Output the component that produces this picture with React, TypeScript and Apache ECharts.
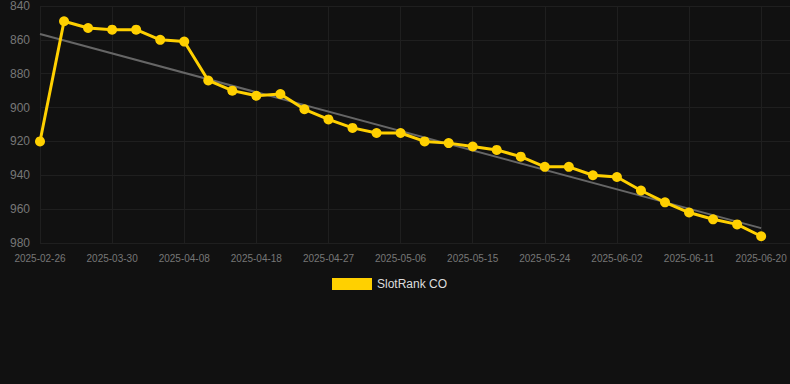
import React, { useEffect, useRef } from "react";
import * as echarts from "echarts";

const dates = [
  "2025-02-26", "2025-03-24", "2025-03-27", "2025-03-30", "2025-04-02", "2025-04-05",
  "2025-04-08", "2025-04-11", "2025-04-15", "2025-04-18", "2025-04-21", "2025-04-24",
  "2025-04-27", "2025-04-30", "2025-05-03", "2025-05-06", "2025-05-09", "2025-05-12",
  "2025-05-15", "2025-05-18", "2025-05-21", "2025-05-24", "2025-05-27", "2025-05-30",
  "2025-06-02", "2025-06-05", "2025-06-08", "2025-06-11", "2025-06-14", "2025-06-17",
  "2025-06-20",
];

const rankValues = [
  920, 849, 853, 854, 854, 860, 861, 884, 890, 893, 892, 901, 907, 912, 915, 915,
  920, 921, 923, 925, 929, 935, 935, 940, 941, 949, 956, 962, 966, 969, 976,
];

const trendIndex = [0, 30];
const trendValues = [856.5, 971.2];

const seriesName = "SlotRank CO";

export default function App() {
  const ref = useRef<HTMLDivElement>(null);
  useEffect(() => {
    document.body.style.margin = "0";
    document.body.style.background = "#111111";
    const chart = echarts.init(ref.current!, null, { renderer: "svg" });
    chart.setOption({
      animation: false,
      backgroundColor: "#111111",
      grid: { left: 40, right: 0, top: 6, bottom: 141, containLabel: false },
      legend: {
        data: [seriesName],
        left: 327,
        top: 273,
        icon: "rect",
        itemWidth: 40,
        itemHeight: 12,
        itemGap: 10,
        textStyle: { color: "#dddddd", fontSize: 12, fontFamily: "Liberation Sans, Arial, sans-serif" },
      },
      xAxis: {
        type: "value",
        min: 0,
        max: 31.2,
        interval: 3,
        axisLine: { show: false },
        axisTick: { show: false },
        splitLine: { show: true, lineStyle: { color: "#1f1f1f", width: 1 } },
        axisLabel: {
          color: "#777777",
          fontSize: 10,
          margin: 10,
          fontFamily: "Liberation Sans, Arial, sans-serif",
          showMaxLabel: false,
          formatter: (v: number) => {
            const i = Math.round(v);
            return Math.abs(v - i) < 1e-6 && dates[i] ? dates[i] : "";
          },
        },
      },
      yAxis: {
        type: "value",
        inverse: true,
        min: 840,
        max: 980,
        interval: 20,
        axisLine: { show: false },
        axisTick: { show: false },
        splitLine: { show: true, lineStyle: { color: "#1f1f1f", width: 1 } },
        axisLabel: {
          color: "#777777",
          fontSize: 12,
          margin: 10,
          fontFamily: "Liberation Sans, Arial, sans-serif",
        },
      },
      series: [
        {
          name: "trend",
          type: "line",
          data: trendIndex.map((x, i) => [x, trendValues[i]]),
          symbol: "none",
          lineStyle: { color: "#666666", width: 2 },
          itemStyle: { color: "#666666" },
          z: 1,
          silent: true,
        },
        {
          name: seriesName,
          type: "line",
          data: rankValues.map((v, i) => [i, v]),
          symbol: "circle",
          symbolSize: 10,
          lineStyle: { color: "#ffd000", width: 3 },
          itemStyle: { color: "#ffd000" },
          z: 2,
        },
      ],
    });
    return () => chart.dispose();
  }, []);
  return <div ref={ref} style={{ width: 790, height: 384 }} />;
}
